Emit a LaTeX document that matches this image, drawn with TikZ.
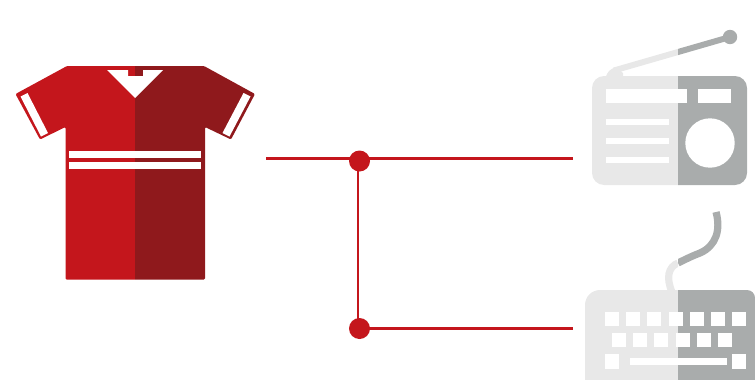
\documentclass[tikz,border=0pt]{standalone}
\definecolor{shirtred}{HTML}{C4161C}
\definecolor{shirtdark}{HTML}{8F191C}
\definecolor{greylight}{HTML}{E8E8E8}
\definecolor{greydark}{HTML}{A9ACAC}
\tikzset{
  x=1pt,y=-1pt,
  hole/.style={fill=white,draw=none},
  wire/.style={draw=shirtred,line width=3.3pt},
  wirethin/.style={draw=shirtred,line width=2.8pt},
  joint/.style={circle,fill=shirtred,draw=none,minimum size=21pt,inner sep=0pt},
  cordl/.style={draw=greylight,line width=7.2pt},
  cordd/.style={draw=greydark,line width=7.2pt},
}
\begin{document}
\begin{tikzpicture}
\useasboundingbox (0,0) rectangle (755,380);
\clip (0,0) rectangle (755,380);
% shirt
\def\shirtpath{(67,66) -- (204,66) -- (255,94) -- (231,139.5) -- (205,127) -- (205,279.5) -- (65.5,279.5) -- (65.5,127) -- (40,139.5) -- (15.5,94) -- cycle}
\begin{scope}
  \clip[rounded corners=1.2pt] \shirtpath;
  \fill[shirtred] (0,50) rectangle (135,290);
  \fill[shirtdark] (135,50) rectangle (260,290);
\end{scope}
\fill[hole] (107,70) -- (128,70) -- (128,76) -- (143,76) -- (143,70) -- (163,70) -- (135,98) -- cycle;
\fill[hole] (69,151) rectangle (201,158.3);
\fill[hole] (69,162) rectangle (201,169.3);
\fill[hole] (20.5,96.5) -- (27.5,93) -- (48,133) -- (41,136.5) -- cycle;
\fill[hole] (250.5,96.5) -- (243.5,93) -- (222.5,133) -- (229.5,136.5) -- cycle;
% radio
\begin{scope}
  \clip (560,20) rectangle (678,190);
  \fill[greylight,rounded corners=12pt] (592,76) rectangle (747,185);
  \draw[greylight,line width=6pt] (614,70.5) -- (730,37);
  \fill[greylight] (605.5,78) .. controls (607,72) and (610,69) .. (616,67) -- (623,73) -- (623,78) -- cycle;
\end{scope}
\begin{scope}
  \clip (678,20) rectangle (755,190);
  \fill[greydark,rounded corners=12pt] (592,76) rectangle (747,185);
  \draw[greydark,line width=6pt] (614,70.5) -- (730,37);
  \fill[greydark] (730,37) circle[radius=7.2];
\end{scope}
\fill[hole] (606,89) rectangle (687,103);
\fill[hole] (698,89) rectangle (731,103);
\fill[hole] (606,119) rectangle (669,125);
\fill[hole] (606,138) rectangle (669,144);
\fill[hole] (606,157) rectangle (669,163);
\fill[hole] (710,143) circle[radius=24.7];
% keyboard
\begin{scope}
  \clip (560,195) rectangle (678,380);
  \fill[greylight,rounded corners=15pt] (585,290) rectangle (775,400);
  \draw[cordl] (678,263) .. controls (668,267) and (666,278) .. (672,292);
\end{scope}
\begin{scope}
  \clip (678,195) rectangle (755,380);
  \fill[greydark,rounded corners=8pt] (585,290) -- (755,290) -- (755,400) -- (585,400) -- cycle;
  \draw[cordd] (716,212) .. controls (721,230) and (716,246) .. (700,253) .. controls (692,256) and (684,260) .. (678,263);
\end{scope}
\foreach \k in {0,...,6}
  \fill[hole] ({605+21.2*\k},312) rectangle ++(14,14);
\foreach \k in {0,...,5}
  \fill[hole] ({612+21.2*\k},333) rectangle ++(14,14);
\fill[hole] (605,354) rectangle (619,369);
\fill[hole] (630,358) rectangle (727,365);
\fill[hole] (732,354) rectangle (746,369);
% connectors
\coordinate (topstart) at (266,158.3);
\coordinate (topend) at (573,158.3);
\coordinate (botend) at (573,328.5);
\node[joint] (dottop) at (359.5,161) {};
\node[joint] (dotbot) at (359.5,328.5) {};
\draw[wire] (topstart) -- (topend);
\draw[wirethin] (358,161) -- (358,328.5);
\draw[wirethin] (dotbot.center) -- (botend);
\end{tikzpicture}
\end{document}
